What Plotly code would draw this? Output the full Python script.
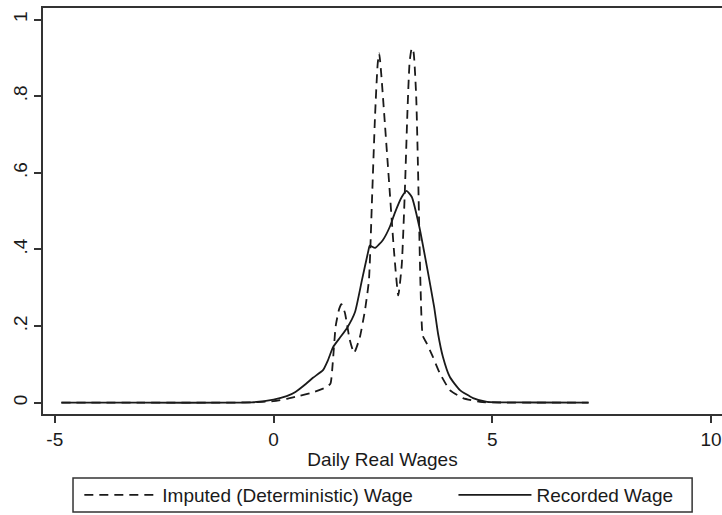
import plotly.graph_objects as go

# Kernel density estimates of daily real wages
imputed_x = [-4.85, -3.0, -1.5, -0.5, 0.0, 0.3, 0.6, 0.9, 1.2, 1.3, 1.35, 1.42, 1.5, 1.55,
             1.63, 1.74, 1.84, 1.97, 2.09, 2.18, 2.25, 2.32, 2.38, 2.415, 2.46, 2.55, 2.65,
             2.75, 2.85, 2.93, 3.0, 3.06, 3.11, 3.16, 3.2, 3.26, 3.3, 3.36, 3.41, 3.5, 3.64,
             3.8, 4.03, 4.33, 4.72, 5.2, 6.0, 7.2]
imputed_y = [0.0, 0.0, 0.0, 0.001, 0.004, 0.01, 0.018, 0.027, 0.04, 0.05, 0.1, 0.2, 0.245, 0.257,
             0.235, 0.165, 0.13, 0.17, 0.242, 0.32, 0.53, 0.75, 0.885, 0.912, 0.86, 0.72, 0.56,
             0.4, 0.28, 0.36, 0.55, 0.76, 0.89, 0.926, 0.915, 0.8, 0.62, 0.3, 0.175, 0.155, 0.12,
             0.077, 0.033, 0.012, 0.002, 0.0005, 0.0, 0.0]

recorded_x = [-4.85, -3.0, -1.0, -0.5, 0.0, 0.3, 0.5, 0.75, 0.9, 1.13, 1.24, 1.36, 1.52, 1.68,
              1.86, 2.02, 2.16, 2.2, 2.32, 2.5, 2.66, 2.77, 2.93, 3.04, 3.16, 3.33, 3.52, 3.67,
              3.76, 3.87, 4.03, 4.26, 4.56, 4.88, 5.2, 6.0, 7.2]
recorded_y = [0.0, 0.0, 0.0, 0.001, 0.008, 0.017, 0.028, 0.05, 0.065, 0.085, 0.11, 0.145, 0.17, 0.195,
              0.236, 0.32, 0.393, 0.41, 0.404, 0.425, 0.46, 0.495, 0.537, 0.553, 0.537, 0.46, 0.346, 0.25,
              0.18, 0.12, 0.067, 0.033, 0.012, 0.002, 0.001, 0.0005, 0.0]

x_ticks = [-5, 0, 5, 10]
x_tick_labels = ["-5", "0", "5", "10"]
y_ticks = [0, 0.2, 0.4, 0.6, 0.8, 1.0]
y_tick_labels = ["0", ".2", ".4", ".6", ".8", "1"]

FONT = "Arial, Liberation Sans, sans-serif"
INK = "#1a1a1a"

fig = go.Figure()
fig.add_trace(go.Scatter(
    x=imputed_x, y=imputed_y, mode="lines", name="Imputed (Deterministic) Wage",
    line=dict(color=INK, width=1.8, dash="9px,6px", shape="spline", smoothing=0.5),
    legend="legend",
))
fig.add_trace(go.Scatter(
    x=recorded_x, y=recorded_y, mode="lines", name="Recorded Wage",
    line=dict(color=INK, width=1.8, shape="spline", smoothing=0.5),
    legend="legend2",
))

# One legend per series so the two keys sit spread across a shared frame
legend_common = dict(
    orientation="h", xanchor="left", yanchor="middle", y=-0.1995,
    bgcolor="rgba(0,0,0,0)", borderwidth=0,
    font=dict(family=FONT, size=19, color=INK),
    itemwidth=73,
)

fig.update_layout(
    width=722, height=515,
    margin=dict(l=43, r=0, t=8, b=101, pad=0),
    paper_bgcolor="white", plot_bgcolor="white",
    font=dict(family=FONT, size=19, color=INK),
    showlegend=True,
    legend=dict(legend_common, x=0.0535),
    legend2=dict(legend_common, x=0.6045),
    shapes=[dict(
        type="rect", xref="paper", yref="paper",
        x0=0.0442, x1=0.956, y0=-0.2414, y1=-0.1576,
        line=dict(color="#333333", width=1.5), fillcolor="rgba(0,0,0,0)", layer="below",
    )],
)
fig.update_xaxes(
    range=[-5.27, 10.25], tickvals=x_ticks, ticktext=x_tick_labels,
    ticks="outside", ticklen=7, tickwidth=1.5, tickcolor="#333333",
    showline=True, linecolor="#333333", linewidth=1.5, mirror=True,
    showgrid=False, zeroline=False,
    title=dict(text="Daily Real Wages", font=dict(family=FONT, size=19), standoff=4),
)
fig.update_yaxes(
    range=[-0.0295, 1.0305], tickvals=y_ticks, ticktext=y_tick_labels, tickangle=-90,
    ticks="outside", ticklen=7, tickwidth=1.5, tickcolor="#333333",
    showline=True, linecolor="#333333", linewidth=1.5, mirror=False,
    showgrid=False, zeroline=False,
)

fig.write_html("out.html")
